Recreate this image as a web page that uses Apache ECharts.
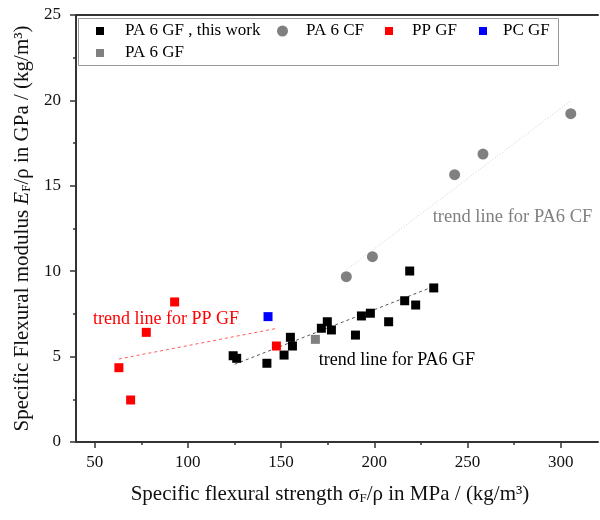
<!DOCTYPE html>
<html><head><meta charset="utf-8">
<script src="https://cdn.jsdelivr.net/npm/echarts@6/dist/echarts.min.js"></script>
<style>html,body{margin:0;padding:0;background:#fff}#c{width:600px;height:520px}</style>
</head><body><div id="c"></div>
<script>
// ---- data ----
const pa6GfThisWork = [[124.3,5.05],[126.2,4.9],[142.4,4.61],[151.6,5.09],[155.0,6.13],[156.1,5.62],[171.6,6.66],[174.8,7.04],[177.0,6.56],[189.9,6.26],[193.1,7.38],[197.9,7.54],[207.7,7.04],[216.3,8.27],[219.0,10.01],[222.2,8.02],[231.9,9.02]];
const pa6Cf = [[185.0,9.68],[199.0,10.85],[243.1,15.65],[258.3,16.86],[305.4,19.22]];
const ppGf = [[63.0,4.35],[69.3,2.46],[77.7,6.42],[92.9,8.20],[147.5,5.62]];
const pcGf = [[143.0,7.34]];
const pa6Gf = [[168.4,6.01]];
const trendPpGf = [[63,4.86],[147.5,6.65]];
const trendPa6Gf = [[125.1,4.55],[231.5,9.09]];
const trendPa6Cf = [[185,10.07],[305.4,19.98]];
const xTicks = [50,100,150,200,250,300];
const xMinorTicks = [75,125,175,225,275];
const seriesNames = ['PA 6 GF , this work','PA 6 CF','PP GF','PC GF','PA 6 GF'];
const trendLabels = ['trend line for PP GF','trend line for PA6 GF','trend line for PA6 CF'];

const FONT = '"Liberation Serif", "Times New Roman", serif';
const chart = echarts.init(document.getElementById('c'));

function legendItem(name, icon, left, top, size, pad){
  return {
    show:true, left:left, top:top, padding:0, itemGap:0, selectedMode:false,
    itemWidth:size, itemHeight:size,
    data:[{name:name, icon:icon}],
    textStyle:{fontFamily:FONT, fontSize:17, color:'#000', lineHeight:18, padding:[0,0,0,pad]}
  };
}

const option = {
  animation:false,
  backgroundColor:'#fff',
  grid:{left:76, right:2, top:15, bottom:78, containLabel:false},
  legend:[
    legendItem(seriesNames[0],'rect',96,22,8,16),
    legendItem(seriesNames[1],'circle',277,22,11,13),
    legendItem(seriesNames[2],'rect',385,22,8,14),
    legendItem(seriesNames[3],'rect',479,22,8,11),
    legendItem(seriesNames[4],'rect',96,44,8,16)
  ],
  xAxis:[
    {
      type:'value', min:40, max:320, position:'bottom',
      axisLine:{show:true, onZero:false, lineStyle:{color:'#333', width:2}},
      axisTick:{show:true, inside:false, length:6, customValues:xTicks, lineStyle:{color:'#333', width:1.5}},
      axisLabel:{show:true, customValues:xTicks, margin:12, fontFamily:FONT, fontSize:17, color:'#111'},
      splitLine:{show:false},
      name:'Specific flexural strength {n|σ}{sub|F}{n|/ρ in MPa / (kg/m³)}',
      nameLocation:'middle', nameGap:42,
      nameTextStyle:{fontFamily:FONT, fontSize:21, color:'#111', padding:[0,14,0,0],
        rich:{n:{fontFamily:FONT, fontSize:21, color:'#111'}, sub:{fontFamily:FONT, fontSize:13, color:'#111', verticalAlign:'bottom'}}}
    },
    {
      type:'value', min:40, max:320, position:'bottom',
      axisLine:{show:false, onZero:false},
      axisTick:{show:true, inside:false, length:3, customValues:xMinorTicks, lineStyle:{color:'#333', width:1.5}},
      axisLabel:{show:false},
      splitLine:{show:false}
    },
    {
      type:'value', min:40, max:320, position:'top',
      axisLine:{show:true, onZero:false, lineStyle:{color:'#333', width:2}},
      axisTick:{show:false}, axisLabel:{show:false}, splitLine:{show:false}
    }
  ],
  yAxis:{
    type:'value', min:0, max:25, interval:5, position:'left',
    axisLine:{show:true, onZero:false, lineStyle:{color:'#333', width:2}},
    axisTick:{show:true, inside:false, length:6, lineStyle:{color:'#333', width:1.5}},
    minorTick:{show:true, splitNumber:2, length:3, lineStyle:{color:'#333', width:1.5}},
    axisLabel:{margin:15, fontFamily:FONT, fontSize:17, color:'#111'},
    splitLine:{show:false},
    name:'Specific Flexural modulus {it|E}{sub|F}/ρ in GPa / (kg/m³)',
    nameLocation:'middle', nameGap:38, nameRotate:90,
    nameTextStyle:{fontFamily:FONT, fontSize:21, color:'#111',
      rich:{it:{fontFamily:FONT, fontSize:21, fontStyle:'italic', color:'#111'}, sub:{fontFamily:FONT, fontSize:13, color:'#111', verticalAlign:'bottom'}}}
  },
  series:[
    {name:'trendPP', type:'line', data:trendPpGf, symbol:'none', silent:true, z:1,
      lineStyle:{color:'#ff5a5a', width:1, type:[3,3]}},
    {name:'trendPA6GF', type:'line', data:trendPa6Gf, symbol:'none', silent:true, z:1,
      lineStyle:{color:'#555', width:1, type:[3,3]}},
    {name:'trendPA6CF', type:'line', data:trendPa6Cf, symbol:'none', silent:true, z:1,
      lineStyle:{color:'#cfcfcf', width:1, type:[1,2]}},
    {name:seriesNames[0], type:'scatter', data:pa6GfThisWork, symbol:'rect', symbolSize:9, z:3,
      itemStyle:{color:'#000', opacity:1}},
    {name:seriesNames[1], type:'scatter', data:pa6Cf, symbol:'circle', symbolSize:11, z:3,
      itemStyle:{color:'#808080', opacity:1}},
    {name:seriesNames[2], type:'scatter', data:ppGf, symbol:'rect', symbolSize:9, z:3,
      itemStyle:{color:'#ff0000', opacity:1}},
    {name:seriesNames[3], type:'scatter', data:pcGf, symbol:'rect', symbolSize:9, z:3,
      itemStyle:{color:'#0000ff', opacity:1}},
    {name:seriesNames[4], type:'scatter', data:pa6Gf, symbol:'rect', symbolSize:9, z:3,
      itemStyle:{color:'#808080', opacity:1}}
  ],
  graphic:[
    {type:'rect', z:10, shape:{x:78.5, y:18.5, width:480, height:47}, style:{fill:'none', stroke:'#999', lineWidth:1}},
    {type:'text', z:10, x:93, y:319.5, style:{text:trendLabels[0], fill:'#ff0000', font:'18px ' + FONT, verticalAlign:'middle'}},
    {type:'text', z:10, x:318.7, y:360, style:{text:trendLabels[1], fill:'#000', font:'18px ' + FONT, verticalAlign:'middle'}},
    {type:'text', z:10, x:432.7, y:216.7, style:{text:trendLabels[2], fill:'#808080', font:'18.5px ' + FONT, verticalAlign:'middle'}}
  ]
};
chart.setOption(option);
</script>
</body></html>
